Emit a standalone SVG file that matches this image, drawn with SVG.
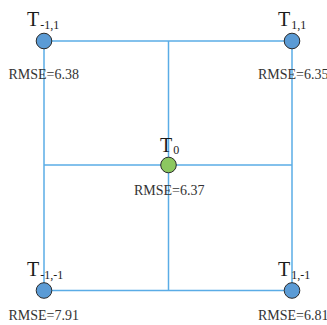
<svg xmlns="http://www.w3.org/2000/svg" width="327" height="325" viewBox="0 0 327 325">
<style>
.ln{stroke:#5aace6;stroke-width:1.5;fill:none}
.nd{stroke:#2b2b2b;stroke-width:1}
.blue{fill:#5b9bd5}
.green{fill:#8cc760}
.t{font-family:"Liberation Serif",serif;font-size:20px;fill:#1a1a1a}
.s{font-size:12px}
.r{font-family:"Liberation Serif",serif;font-size:14px;fill:#333}
</style>
<rect width="327" height="325" fill="#fff"/>
<g id="connectors">
<line class="ln" x1="44" y1="41" x2="292" y2="41"/>
<line class="ln" x1="44" y1="165" x2="292" y2="165"/>
<line class="ln" x1="44" y1="290.5" x2="292" y2="290.5"/>
<line class="ln" x1="44" y1="41" x2="44" y2="290.5"/>
<line class="ln" x1="168.5" y1="41" x2="168.5" y2="290.5"/>
<line class="ln" x1="292" y1="41" x2="292" y2="290.5"/>
</g>
<g id="node-m1-1">
<circle class="nd blue" cx="44" cy="41" r="7.8"/>
<text class="t" x="27" y="26">T<tspan class="s" dx="1" dy="3">-1,1</tspan></text>
<text class="r" x="8.5" y="79">RMSE=6.38</text>
</g>
<g id="node-1-1">
<circle class="nd blue" cx="292" cy="41" r="7.8"/>
<text class="t" x="278" y="26">T<tspan class="s" dx="1" dy="3">1,1</tspan></text>
<text class="r" x="258" y="79">RMSE=6.35</text>
</g>
<g id="node-0">
<circle class="nd green" cx="168.5" cy="165" r="7.8"/>
<text class="t" x="160" y="152">T<tspan class="s" dx="1" dy="2">0</tspan></text>
<text class="r" x="134" y="195">RMSE=6.37</text>
</g>
<g id="node-m1-m1">
<circle class="nd blue" cx="44" cy="290.5" r="7.8"/>
<text class="t" x="27" y="276">T<tspan class="s" dx="1" dy="3">-1,-1</tspan></text>
<text class="r" x="8.5" y="320">RMSE=7.91</text>
</g>
<g id="node-1-m1">
<circle class="nd blue" cx="292" cy="290.5" r="7.8"/>
<text class="t" x="278" y="276">T<tspan class="s" dx="1" dy="3">1,-1</tspan></text>
<text class="r" x="258" y="320">RMSE=6.81</text>
</g>
</svg>
